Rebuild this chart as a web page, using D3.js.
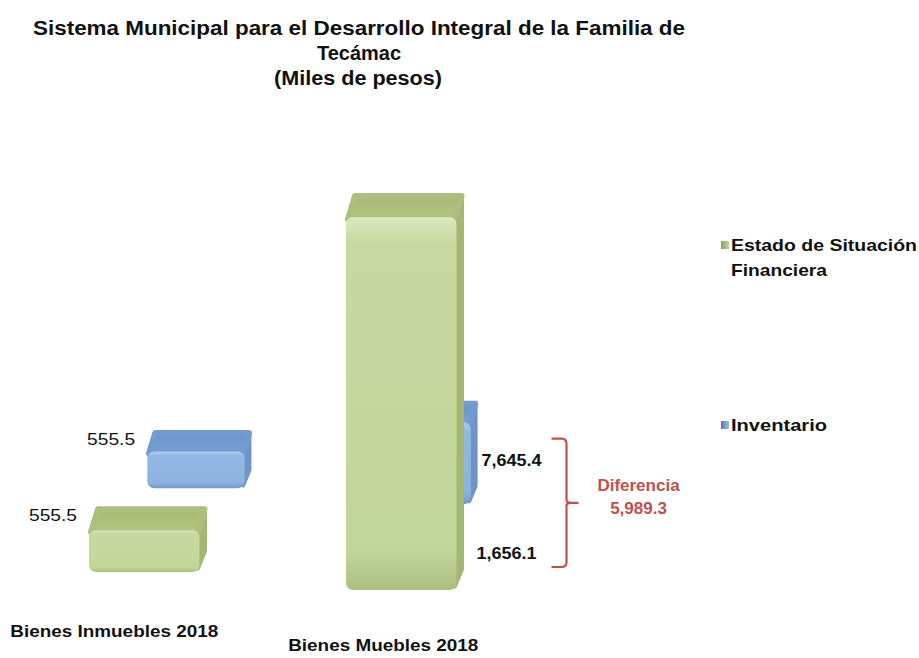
<!DOCTYPE html>
<html>
<head>
<meta charset="utf-8">
<script src="https://cdn.jsdelivr.net/npm/d3@7"></script>
<style>
  body { margin: 0; background: #fff; }
  text { font-family: "Liberation Sans", Arial, sans-serif; }
</style>
</head>
<body>
<div id="chart"></div>
<script>
// data
const categories = ['Bienes Inmuebles 2018', 'Bienes Muebles 2018']
const seriesNames = ['Estado de Situación Financiera', 'Inventario']
const estadoValues = [555.5, 7645.4]
const inventarioValues = [555.5, 1656.1]
const labelText = ['555.5', '7,645.4', '555.5', '1,656.1']
const diferencia = '5,989.3'

const width = 919
const height = 658

const svg = d3.select('#chart')
  .append('svg')
  .attr('width', width)
  .attr('height', height)

// gradients
const defs = svg.append('defs')
function grad (id, stops, horiz) {
  const g = defs.append('linearGradient').attr('id', id)
    .attr('x1', 0).attr('y1', 0).attr('x2', horiz ? 1 : 0).attr('y2', horiz ? 0 : 1)
  stops.forEach(s => g.append('stop').attr('offset', s[0]).attr('stop-color', s[1]))
}
grad('gFront', [[0, '#dbe8c0'], [0.07, '#c7d9a1'], [0.9, '#c2d599'], [1, '#aabe80']])
grad('bFront', [[0, '#b0cdf0'], [0.12, '#92b7e4'], [0.85, '#8cb2df'], [1, '#7198c8']])
grad('gTop', [[0, '#a3b873'], [1, '#b3c783']])
grad('bTop', [[0, '#6993c9'], [1, '#7aa2d6']])
grad('gLeg', [[0, '#8aa05a'], [1, '#c3d69b']], true)
grad('bLeg', [[0, '#4f7cb6'], [1, '#9dbfe8']], true)

const colors = [
  { front: 'url(#gFront)', top: 'url(#gTop)', edge: '#abc07c', side: '#a2b770', flat: 'url(#gLeg)' },
  { front: 'url(#bFront)', top: 'url(#bTop)', edge: '#729bcf', side: '#6f95c6', flat: 'url(#bLeg)' }
]

// title
const title = svg.append('text')
  .attr('text-anchor', 'middle')
  .attr('font-size', 20)
  .attr('font-weight', 'bold')
  .attr('fill', '#111')
title.append('tspan').attr('x', 359).attr('y', 35)
  .attr('textLength', 652).attr('lengthAdjust', 'spacingAndGlyphs')
  .text('Sistema Municipal para el Desarrollo Integral de la Familia de')
title.append('tspan').attr('x', 359).attr('y', 60)
  .attr('textLength', 84).attr('lengthAdjust', 'spacingAndGlyphs')
  .text('Tecámac')
title.append('tspan').attr('x', 358).attr('y', 85)
  .attr('textLength', 168).attr('lengthAdjust', 'spacingAndGlyphs')
  .text('(Miles de pesos)')

// scales
const x = d3.scaleBand()
  .domain(categories)
  .range([89, 456.5])
  .paddingInner(0.57)
  .paddingOuter(0)

const floor = d3.scaleLinear()
  .domain([0, categories.length - 1])
  .range([572, 590])

const h = d3.scaleLinear()
  .domain([-340, 7645.4])
  .range([0, 373])

// perspective for the back row
const vx = 575
const vy = -125
const s = 0.88
const depth = 21
const slant = 7

function project (p, back) {
  if (!back) return p
  return [vx + (p[0] - vx) * s, vy + (p[1] - vy) * s]
}

function boxes (values, si) {
  const back = si === 1
  return values.map((v, i) => {
    const x0 = x(categories[i])
    const x1 = x0 + x.bandwidth()
    const base = floor(i)
    const yt = base - h(v)
    const P = p => project(p, back)
    return {
      i: i,
      si: si,
      front: [P([x0, yt]), P([x1, base])],
      top: [P([x0 + 2, yt + 2]), P([x1 - 2, yt + 2]), P([x1 + slant - 2, yt - depth]), P([x0 + slant + 2, yt - depth])],
      side: [P([x1 - 2, yt]), P([x1 + slant - 2, yt - depth]), P([x1 + slant - 2, base - depth]), P([x1 - 2, base - 4])]
    }
  })
}

const backRow = boxes(inventarioValues, 1)
const frontRow = boxes(estadoValues, 0)

function drawBoxes (data) {
  const g = svg.append('g')
  const b = g.selectAll('g.box').data(data).enter().append('g').attr('class', 'box')
  b.append('polygon')
    .attr('points', d => d.side.join(' '))
    .attr('fill', d => colors[d.si].side)
    .attr('stroke', d => colors[d.si].side)
    .attr('stroke-width', 5)
    .attr('stroke-linejoin', 'round')
  b.append('polygon')
    .attr('points', d => d.top.join(' '))
    .attr('fill', d => colors[d.si].top)
    .attr('stroke', d => colors[d.si].edge)
    .attr('stroke-width', 6)
    .attr('stroke-linejoin', 'round')
  b.append('rect')
    .attr('x', d => d.front[0][0])
    .attr('y', d => d.front[0][1])
    .attr('width', d => d.front[1][0] - d.front[0][0])
    .attr('height', d => d.front[1][1] - d.front[0][1])
    .attr('rx', 7)
    .attr('fill', d => colors[d.si].front)
}

drawBoxes(backRow)
drawBoxes(frontRow)

// data labels
const lbl = svg.append('g').attr('font-size', 17).attr('fill', '#111')
// Inmuebles: left of each box top
;[frontRow[0], backRow[0]].forEach((d, k) => {
  lbl.append('text')
    .attr('x', d.top[0][0] - 14)
    .attr('y', d.top[3][1] + 12)
    .attr('text-anchor', 'end')
    .attr('textLength', 48)
    .attr('lengthAdjust', 'spacingAndGlyphs')
    .text(k === 0 ? labelText[0] : labelText[2])
})
// Muebles: right of the tall box
const mx = frontRow[1].side[1][0] + 20
lbl.append('text').attr('x', mx).attr('y', backRow[1].top[3][1] + 62)
  .attr('font-weight', 'bold').attr('textLength', 60).attr('lengthAdjust', 'spacingAndGlyphs')
  .text(labelText[1])
lbl.append('text').attr('x', mx - 5).attr('y', floor(1) - 31)
  .attr('font-weight', 'bold').attr('textLength', 60).attr('lengthAdjust', 'spacingAndGlyphs')
  .text(labelText[3])

// bracket
const red = '#c0504d'
const bx = mx + 70
const bTop = backRow[1].top[3][1] + 35
const bBot = floor(1) - 23
const bMid = (bTop + bBot) / 2
svg.append('path')
  .attr('d', `M${bx},${bTop} H${bx + 10} Q${bx + 15},${bTop} ${bx + 15},${bTop + 5}
    V${bMid - 3} Q${bx + 15},${bMid} ${bx + 19},${bMid} H${bx + 27}
    M${bx + 19},${bMid} Q${bx + 15},${bMid} ${bx + 15},${bMid + 3}
    V${bBot - 5} Q${bx + 15},${bBot} ${bx + 10},${bBot} H${bx}`)
  .attr('fill', 'none')
  .attr('stroke', red)
  .attr('stroke-width', 2.2)

svg.append('text').attr('x', bx + 87).attr('y', bMid - 12)
  .attr('text-anchor', 'middle').attr('font-size', 17).attr('font-weight', 'bold')
  .attr('fill', red).text('Diferencia')
svg.append('text').attr('x', bx + 87).attr('y', bMid + 11)
  .attr('text-anchor', 'middle').attr('font-size', 17).attr('font-weight', 'bold')
  .attr('fill', red).text(diferencia)

// category labels
const catWidth = [208, 190]
svg.append('g').selectAll('text').data(categories).enter().append('text')
  .attr('x', (d, i) => x(d) + x.bandwidth() / 2 - (i === 0 ? 30 : 18))
  .attr('y', (d, i) => floor(i) + (i === 0 ? 65 : 61))
  .attr('text-anchor', 'middle')
  .attr('font-size', 17)
  .attr('font-weight', 'bold')
  .attr('fill', '#111')
  .attr('textLength', (d, i) => catWidth[i])
  .attr('lengthAdjust', 'spacingAndGlyphs')
  .text(d => d)

// legend
const legendY = [245, 425]
const leg = svg.append('g').attr('font-size', 17).attr('font-weight', 'bold').attr('fill', '#111')
seriesNames.forEach((name, i) => {
  leg.append('rect')
    .attr('x', 721).attr('y', legendY[i] - 4)
    .attr('width', 8).attr('height', 8)
    .attr('fill', colors[i].flat)
  const t = leg.append('text').attr('x', 731).attr('y', legendY[i] + 6)
  if (i === 0) {
    t.append('tspan').attr('x', 731).attr('textLength', 186).attr('lengthAdjust', 'spacingAndGlyphs')
      .text('Estado de Situación')
    t.append('tspan').attr('x', 731).attr('dy', 25).attr('textLength', 96).attr('lengthAdjust', 'spacingAndGlyphs')
      .text('Financiera')
  } else {
    t.attr('textLength', 96).attr('lengthAdjust', 'spacingAndGlyphs').text(name)
  }
})
</script>
</body>
</html>
